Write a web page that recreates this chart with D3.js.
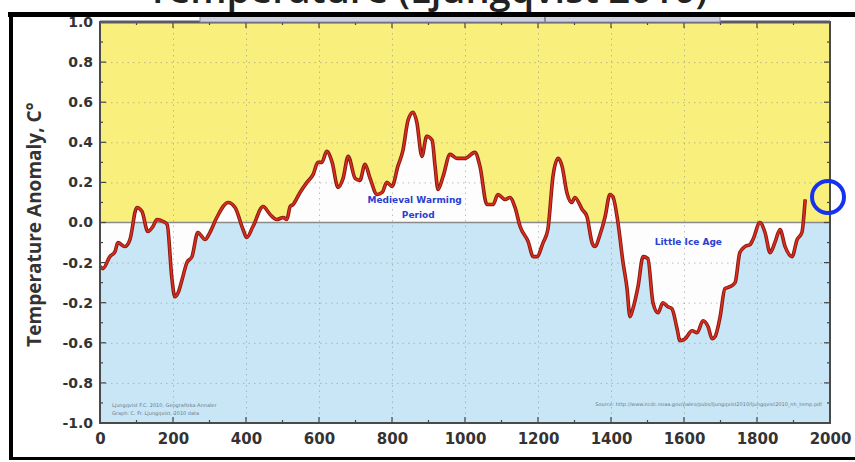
<!DOCTYPE html>
<html>
<head>
<meta charset="utf-8">
<script src="https://cdn.jsdelivr.net/npm/d3@7"></script>
<style>
  html, body { margin: 0; padding: 0; background: #fff; }
  svg { display: block; }
</style>
</head>
<body>
<div id="chart"></div>
<script>
'use strict';

// ── Data ────────────────────────────────────────────────────────────────────
const years = [0, 8, 27, 41, 49, 68, 82, 101, 115, 131, 145, 156, 173, 184, 197, 205, 214, 227,
  238, 252, 268, 288, 301, 320, 351, 370, 392, 402, 419, 447, 466, 484, 502, 512, 521, 529, 548,
  567, 584, 597, 608, 621, 636, 652, 666, 680, 699, 712, 726, 740, 759, 773, 786, 800, 816, 830,
  844, 858, 868, 882, 895, 910, 918, 926, 940, 959, 978, 1000, 1027, 1041, 1060, 1077, 1090,
  1110, 1123, 1137, 1151, 1173, 1187, 1197, 1214, 1227, 1241, 1255, 1266, 1279, 1293, 1301,
  1321, 1334, 1348, 1356, 1370, 1384, 1397, 1405, 1419, 1433, 1444, 1452, 1460, 1474, 1488,
  1501, 1515, 1529, 1542, 1556, 1567, 1581, 1589, 1603, 1622, 1636, 1652, 1666, 1677, 1685,
  1699, 1712, 1726, 1740, 1753, 1767, 1781, 1789, 1808, 1822, 1836, 1849, 1863, 1877, 1896,
  1910, 1923, 1932];

const anomaly = [-0.22, -0.23, -0.17, -0.145, -0.10, -0.12, -0.085, 0.075, 0.055, -0.045, -0.02,
  0.015, 0.005, -0.01, -0.28, -0.37, -0.35, -0.27, -0.20, -0.17, -0.05, -0.085, -0.05, 0.025,
  0.10, 0.075, -0.035, -0.075, -0.02, 0.08, 0.04, 0.015, 0.025, 0.015, 0.08, 0.09, 0.15, 0.20,
  0.24, 0.30, 0.30, 0.355, 0.30, 0.175, 0.22, 0.33, 0.22, 0.21, 0.29, 0.22, 0.14, 0.15, 0.20,
  0.18, 0.28, 0.36, 0.51, 0.55, 0.50, 0.33, 0.43, 0.41, 0.28, 0.165, 0.23, 0.34, 0.32, 0.32,
  0.35, 0.28, 0.09, 0.09, 0.14, 0.115, 0.125, 0.075, -0.02, -0.095, -0.17, -0.17, -0.10, -0.035,
  0.23, 0.32, 0.28, 0.15, 0.10, 0.125, 0.065, 0.03, -0.10, -0.12, -0.06, 0.03, 0.14, 0.13, 0.0,
  -0.20, -0.33, -0.47, -0.43, -0.32, -0.17, -0.18, -0.40, -0.45, -0.40, -0.42, -0.43, -0.53,
  -0.59, -0.58, -0.54, -0.55, -0.49, -0.52, -0.58, -0.57, -0.47, -0.33, -0.32, -0.30, -0.15,
  -0.12, -0.11, -0.085, 0.0, -0.05, -0.15, -0.10, -0.035, -0.12, -0.17, -0.085, -0.05, 0.115];

const xTicks = [0, 200, 400, 600, 800, 1000, 1200, 1400, 1600, 1800, 2000];
const yTicks = [1.0, 0.8, 0.6, 0.4, 0.2, 0.0, -0.2, -0.4, -0.6, -0.8, -1.0];
// tick labels as printed on the original (the -0.4 row reads "-0.2" there)
const yTickLabels = ['1.0', '0.8', '0.6', '0.4', '0.2', '0.0', '-0.2', '-0.2', '-0.6', '-0.8', '-1.0'];

const series = years.map((yr, i) => ({ year: yr, value: anomaly[i] }));

// ── Layout ────────────────────────────────────────────────────────────────
const W = 855, H = 462;
const margin = { top: 22, right: 25, bottom: 39, left: 100 };
const PW = W - margin.left - margin.right;   // 730
const PH = H - margin.top - margin.bottom;   // 401

const x = d3.scaleLinear().domain([0, 2000]).range([0, PW]);
const y = d3.scaleLinear().domain([-1, 1]).range([PH, 0]);

const svg = d3.select('#chart').append('svg')
  .attr('width', W).attr('height', H);

// cropped title at the very top of the screenshot (only its lower edge shows)
svg.append('text')
  .attr('x', 147).attr('y', 3)
  .attr('font-family', 'Open Sans, sans-serif')
  .attr('font-size', '38px')
  .attr('font-weight', 600)
  .attr('fill', '#222')
  .text('Temperature (Ljungqvist 2010)');

const g = svg.append('g').attr('transform', `translate(${margin.left},${margin.top})`);

// background bands
g.append('rect').attr('x', 0).attr('y', 0)
  .attr('width', PW).attr('height', y(0))
  .attr('fill', '#f8ef7c');
g.append('rect').attr('x', 0).attr('y', y(0))
  .attr('width', PW).attr('height', PH - y(0))
  .attr('fill', '#c9e6f6');

// white fill between curve and zero line
const area = d3.area()
  .x(d => x(d.year))
  .y0(y(0))
  .y1(d => y(d.value))
  .curve(d3.curveMonotoneX);
g.append('path').datum(series)
  .attr('d', area)
  .attr('fill', '#fdfdfd');

// dotted grid
g.append('g')
  .call(d3.axisBottom(x).tickValues(xTicks.slice(1, -1)).tickSize(PH).tickFormat(''))
  .call(s => s.select('.domain').remove())
  .selectAll('line')
  .attr('stroke', '#8c8c8c').attr('stroke-opacity', 0.55)
  .attr('stroke-dasharray', '1.5,4');
g.append('g')
  .call(d3.axisLeft(y).tickValues(yTicks.filter(v => v !== 0 && Math.abs(v) !== 1)).tickSize(-PW).tickFormat(''))
  .call(s => s.select('.domain').remove())
  .selectAll('line')
  .attr('stroke', '#8c8c8c').attr('stroke-opacity', 0.55)
  .attr('stroke-dasharray', '1.5,4');

// zero line
g.append('line')
  .attr('x1', 0).attr('x2', PW)
  .attr('y1', y(0)).attr('y2', y(0))
  .attr('stroke', '#8a8a8a').attr('stroke-width', 1.5);

// small source notes (blurred in the original)
const note = (xx, yy, t, anchor) => g.append('text')
  .attr('x', xx).attr('y', yy)
  .attr('text-anchor', anchor || 'start')
  .attr('font-family', 'DejaVu Sans, sans-serif')
  .attr('font-size', '5px')
  .attr('fill', '#6a7a8a')
  .text(t);
note(12, PH - 16, 'Ljungqvist F.C. 2010, Geografiska Annaler');
note(12, PH - 8, 'Graph: C. Fr. Ljungqvist, 2010 data');
note(PW - 8, PH - 17, 'Source: http://www.ncdc.noaa.gov/paleo/pubs/ljungqvist2010/ljungqvist2010_nh_temp.pdf', 'end');

// annotations
const label = (xx, yy, t) => g.append('text')
  .attr('x', xx).attr('y', yy)
  .attr('text-anchor', 'middle')
  .attr('font-family', 'DejaVu Sans, sans-serif')
  .attr('font-size', '9px')
  .attr('font-weight', 700)
  .attr('fill', '#2b3fd0')
  .text(t);
label(x(862), y(0.095), 'Medieval Warming');
label(x(872), y(0.02), 'Period');
label(x(1612), y(-0.11), 'Little Ice Age');

// curve
const line = d3.line()
  .x(d => x(d.year))
  .y(d => y(d.value))
  .curve(d3.curveMonotoneX);
g.append('path').datum(series)
  .attr('d', line)
  .attr('fill', 'none')
  .attr('stroke', '#7c1c14')
  .attr('stroke-width', 3.6)
  .attr('stroke-linejoin', 'round');
g.append('path').datum(series)
  .attr('d', line)
  .attr('fill', 'none')
  .attr('stroke', '#de2b1c')
  .attr('stroke-width', 1.8)
  .attr('stroke-linejoin', 'round');

// inward minor/major ticks
const xMinor = d3.range(100, 2000, 100);
g.append('g').selectAll('line').data(xMinor).join('line')
  .attr('x1', d => x(d)).attr('x2', d => x(d))
  .attr('y1', PH).attr('y2', d => PH - (d % 200 === 0 ? 6 : 3))
  .attr('stroke', '#444').attr('stroke-width', 1.2);
g.append('g').selectAll('line').data(xMinor).join('line')
  .attr('x1', d => x(d)).attr('x2', d => x(d))
  .attr('y1', 0).attr('y2', d => (d % 200 === 0 ? 6 : 3))
  .attr('stroke', '#444').attr('stroke-width', 1.2);
const yMinor = d3.range(-9, 10).map(k => k / 10);
g.append('g').selectAll('line').data(yMinor).join('line')
  .attr('x1', 0).attr('x2', d => (Math.round(d * 10) % 2 === 0 ? 6 : 3))
  .attr('y1', d => y(d)).attr('y2', d => y(d))
  .attr('stroke', '#444').attr('stroke-width', 1.2);
g.append('g').selectAll('line').data(yMinor).join('line')
  .attr('x1', PW).attr('x2', d => PW - (Math.round(d * 10) % 2 === 0 ? 6 : 3))
  .attr('y1', d => y(d)).attr('y2', d => y(d))
  .attr('stroke', '#444').attr('stroke-width', 1.2);

// plot frame
g.append('rect')
  .attr('x', 0).attr('y', 0).attr('width', PW).attr('height', PH)
  .attr('fill', 'none').attr('stroke', '#4a4a4a').attr('stroke-width', 2);
g.append('line')
  .attr('x1', 0).attr('x2', PW).attr('y1', 0).attr('y2', 0)
  .attr('stroke', '#5a5a66').attr('stroke-width', 3);

// axis labels
const xAxis = g.append('g')
  .attr('transform', `translate(0,${PH})`)
  .call(d3.axisBottom(x).tickValues(xTicks).tickSize(0).tickPadding(10).tickFormat(d3.format('d')));
xAxis.select('.domain').remove();
xAxis.selectAll('text')
  .attr('font-family', 'DejaVu Sans, sans-serif')
  .attr('font-size', '15px')
  .attr('font-weight', 700)
  .attr('fill', '#333');

const yAxis = g.append('g')
  .call(d3.axisLeft(y).tickValues(yTicks).tickSize(0).tickPadding(7)
    .tickFormat((d, i) => yTickLabels[i]));
yAxis.select('.domain').remove();
yAxis.selectAll('text')
  .attr('font-family', 'DejaVu Sans, sans-serif')
  .attr('font-size', '14px')
  .attr('font-weight', 700)
  .attr('fill', '#333');

svg.append('text')
  .attr('transform', `translate(41,${margin.top + PH / 2 + 2}) rotate(-90)`)
  .attr('text-anchor', 'middle')
  .attr('font-family', 'Open Sans, sans-serif')
  .attr('font-size', '19px')
  .attr('font-weight', 700)
  .attr('fill', '#333')
  .text('Temperature Anomaly, C°');

// screenshot frame: black border lines and title box remnant
svg.append('rect').attr('x', 200).attr('y', 15).attr('width', 520).attr('height', 7)
  .attr('fill', '#cfd0e2').attr('stroke', '#8a8aa0').attr('stroke-width', 1);
svg.append('line').attr('x1', 545).attr('x2', 545).attr('y1', 15).attr('y2', 22)
  .attr('stroke', '#8a8aa0').attr('stroke-width', 2);
svg.append('rect').attr('x', 8).attr('y', 12).attr('width', W - 8).attr('height', 5).attr('fill', '#000');
svg.append('rect').attr('x', 9).attr('y', 12).attr('width', 4).attr('height', 448).attr('fill', '#000');
svg.append('rect').attr('x', 9).attr('y', 457).attr('width', W - 9).attr('height', 3).attr('fill', '#000');

// highlight circle at the right edge
svg.append('circle')
  .attr('cx', 828).attr('cy', 197).attr('r', 16)
  .attr('fill', 'none').attr('stroke', '#1432f0').attr('stroke-width', 4);
</script>
</body>
</html>
